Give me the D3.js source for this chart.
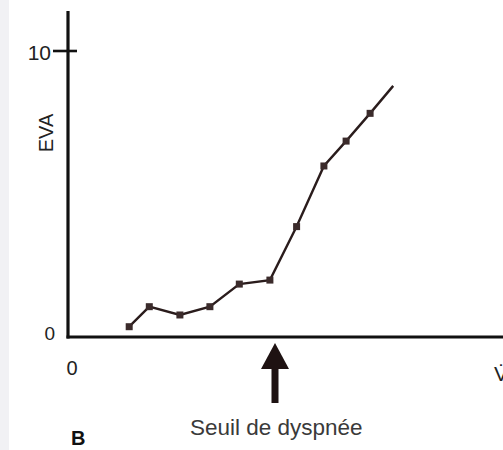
<!DOCTYPE html>
<html>
<head>
<meta charset="utf-8">
<script src="https://cdn.jsdelivr.net/npm/d3@7"></script>
<style>
  html, body { margin: 0; padding: 0; background: #fff; }
  svg { display: block; font-family: "Liberation Sans", Arial, sans-serif; }
</style>
</head>
<body>
<svg id="chart"></svg>
<script>
// valeurs (unités arbitraires pour la charge)
const charge = [2.04, 2.71, 3.73, 4.73, 5.71, 6.73, 7.62, 8.53, 9.27, 10.07, 10.84];
const eva = [0.36, 1.06, 0.77, 1.06, 1.85, 1.99, 3.86, 5.98, 6.85, 7.82, 8.78];
const yTicks = [0, 10];
const xTicks = [0];
const seuil = 6.9;
const seuilLabel = 'Seuil de dyspnée';

const width = 503, height = 450;
const svg = d3.select('#chart')
    .attr('width', width)
    .attr('height', height)
    .attr('viewBox', `0 0 ${width} ${height}`);

// bande grise à gauche (bord du scan)
svg.append('rect')
    .attr('x', 0).attr('y', 0)
    .attr('width', 9).attr('height', height)
    .attr('fill', '#f1f1f4');

const x = d3.scaleLinear().domain([0, 14.5]).range([68, 503]);
const y = d3.scaleLinear().domain([0, 10]).range([337, 51]);

const ink = '#111';

// axes
svg.append('line')
    .attr('x1', x(0)).attr('x2', x(0))
    .attr('y1', 11).attr('y2', y(0) + 1.5)
    .attr('stroke', ink).attr('stroke-width', 3.2);
svg.append('line')
    .attr('x1', x(0) - 1.5).attr('x2', width + 5)
    .attr('y1', y(0)).attr('y2', y(0))
    .attr('stroke', ink).attr('stroke-width', 3.2);

// tick 10
svg.append('line')
    .attr('x1', x(0) - 15).attr('x2', x(0) + 9)
    .attr('y1', y(10)).attr('y2', y(10))
    .attr('stroke', ink).attr('stroke-width', 2.6);

svg.selectAll('.ylab')
    .data(yTicks)
    .enter().append('text')
    .attr('class', 'ylab')
    .attr('x', d => d === 10 ? 51 : 55)
    .attr('y', d => d === 10 ? y(d) + 2 : y(d) - 4)
    .attr('dy', '.35em')
    .attr('text-anchor', 'end')
    .attr('font-size', d => d === 10 ? 21 : 19)
    .attr('fill', '#222')
    .text(d => d);

svg.selectAll('.xlab')
    .data(xTicks)
    .enter().append('text')
    .attr('class', 'xlab')
    .attr('x', d => x(d) + 4)
    .attr('y', 375)
    .attr('text-anchor', 'middle')
    .attr('font-size', 20)
    .attr('fill', '#222')
    .text(d => d);

// titre axe y
svg.append('text')
    .attr('transform', 'translate(53,133) rotate(-90)')
    .attr('text-anchor', 'middle')
    .attr('font-size', 20)
    .attr('fill', '#222')
    .text('EVA');

// titre axe x (coupé par le bord comme sur l'original)
svg.append('text')
    .attr('x', 494)
    .attr('y', 381)
    .attr('font-size', 21)
    .attr('fill', '#222')
    .text('V\u0307');

// courbe
const pts = charge.map((c, i) => ({ c: c, v: eva[i] }));
const line = d3.line().x(d => x(d.c)).y(d => y(d.v));

svg.append('path')
    .datum(pts)
    .attr('d', line)
    .attr('fill', 'none')
    .attr('stroke', '#2a1c1c')
    .attr('stroke-width', 2.4);

svg.selectAll('.pt')
    .data(pts.slice(0, -1))
    .enter().append('rect')
    .attr('class', 'pt')
    .attr('x', d => x(d.c) - 3.5)
    .attr('y', d => y(d.v) - 3.5)
    .attr('width', 7).attr('height', 7)
    .attr('fill', '#3b2b2b');

// flèche du seuil
const ax = x(seuil);
svg.append('rect')
    .attr('x', ax - 3.5).attr('y', 366)
    .attr('width', 7).attr('height', 37)
    .attr('fill', '#1e1212');
svg.append('path')
    .attr('d', `M${ax},343 L${ax + 14},369 L${ax - 14},369 Z`)
    .attr('fill', '#1e1212');

svg.append('text')
    .attr('x', 190)
    .attr('y', 435)
    .attr('font-size', 22.5)
    .attr('fill', '#3a3a3a')
    .text(seuilLabel);

svg.append('text')
    .attr('x', 71)
    .attr('y', 445)
    .attr('font-size', 20)
    .attr('font-weight', 'bold')
    .attr('fill', '#111')
    .text('B');
</script>
</body>
</html>
